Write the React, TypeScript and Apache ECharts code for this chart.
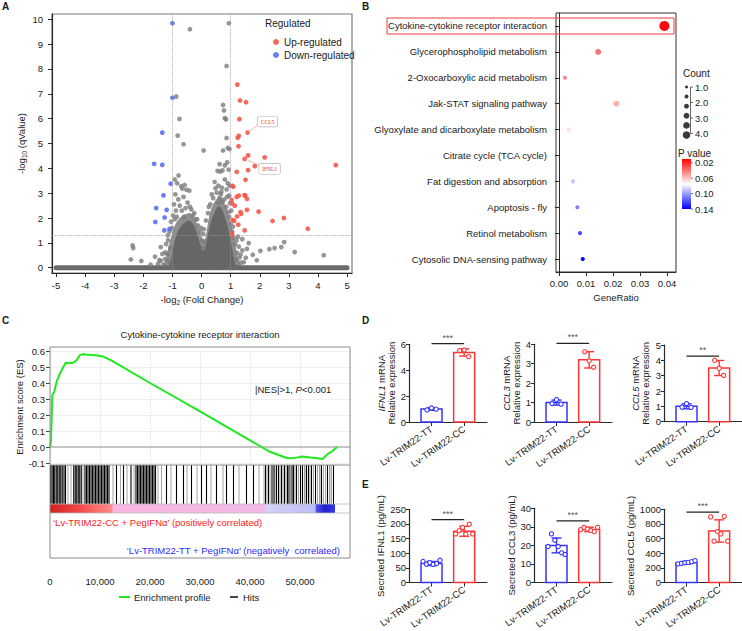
import React, { useEffect, useRef } from 'react';
import * as echarts from 'echarts';

const FONT = '"Liberation Sans", Arial, Helvetica, sans-serif';
const TXT = '#1a1a1a';
const AXIS = '#2a2a2a';
const BLUE = '#3434ff';
const RED = '#ff3434';

// ---------------- Panel A: volcano ----------------
const volcanoXTicks = [-5, -4, -3, -2, -1, 0, 1, 2, 3, 4, 5];
const volcanoYTicks = [0, 1, 2, 3, 4, 5, 6, 7, 8, 9, 10];
const foldChangeCutoffs = [-1, 1];
const qValueCutoff = 1.3;
const baselineRow = [[-5, 0], [5, 0]];
const upRegulated = [
  [1.23, 7.37], [1.32, 6.73], [1.53, 6.66], [1.30, 5.98], [1.58, 5.44], [1.28, 5.31], [1.24, 5.23],
  [1.27, 4.89], [1.60, 4.52], [2.17, 4.44], [1.48, 4.38], [1.83, 4.09], [4.61, 4.13], [1.60, 3.93],
  [1.21, 3.86], [1.51, 3.54], [1.05, 3.30], [1.09, 3.26], [1.48, 2.92], [1.50, 2.90], [1.28, 2.90],
  [1.21, 2.85], [1.03, 2.73], [1.56, 2.77], [1.04, 2.59], [1.14, 2.50], [1.56, 2.33], [1.34, 2.24],
  [1.36, 2.17], [1.96, 2.26], [1.22, 2.06], [2.44, 1.88], [2.83, 2.00], [1.07, 1.92], [1.12, 1.88],
  [1.26, 1.73], [1.48, 1.50], [3.65, 1.57], [1.03, 1.37], [1.05, 1.33],
];
const downRegulated = [
  [-1.00, 9.84], [-1.00, 6.84], [-1.35, 5.44], [-1.63, 4.18], [-1.35, 4.14], [-1.06, 3.38],
  [-1.31, 2.91], [-1.56, 2.40], [-1.20, 2.33], [-1.27, 2.02], [-1.59, 1.84], [-1.10, 1.56], [-1.28, 1.50],
];
const notSignificant = [
  [-0.40, 9.60], [0.94, 9.84], [0.86, 8.12], [-0.87, 6.89], [0.74, 6.55], [0.77, 6.33], [0.80, 6.02],
  [0.84, 5.97], [-0.76, 5.99], [-0.82, 5.32], [0.86, 5.22], [-0.62, 4.97], [0.90, 4.82], [0.96, 4.78],
  [0.74, 4.72], [0.07, 4.72], [0.88, 4.24], [0.62, 4.17], [0.80, 4.12], [0.55, 3.90], [0.64, 3.87],
  [0.72, 3.92], [0.93, 3.95],
  [-0.79, 3.71], [-0.92, 3.55], [-0.84, 3.40], [-0.70, 3.28], [-0.58, 3.33], [-0.52, 3.14], [-0.42, 3.10],
  [-0.66, 3.18], [-0.90, 2.95], [-0.80, 2.75], [-0.62, 2.85], [-0.48, 2.62], [-0.95, 2.55], [-0.75, 2.50],
  [-0.88, 2.30], [-0.55, 2.40], [-0.35, 2.35], [-0.25, 2.20], [-0.98, 2.10], [-1.05, 1.85], [-0.92, 1.95],
  [-0.20, 1.95], [-0.12, 1.70], [-0.05, 1.45], [0.02, 1.10], [-1.10, 1.45], [-1.02, 1.60], [-1.15, 1.10],
  [-1.08, 0.80], [-1.18, 0.55], [-1.25, 0.35], [-1.12, 0.25], [0.05, 0.80], [0.12, 1.05],
  [-1.32, 0.12], [-1.22, 0.95], [-1.35, 0.55], [-1.45, 0.30], [-1.16, 1.30], [-0.68, 2.30], [-0.40, 2.45],
  [-0.30, 2.10], [-0.15, 1.95], [-0.02, 1.60], [0.06, 1.35], [-0.85, 2.05], [-0.60, 2.05],
  [0.45, 3.45], [0.58, 3.30], [0.70, 3.22], [0.80, 3.55], [0.90, 3.40], [0.96, 3.30], [0.86, 3.15],
  [0.68, 3.05], [0.52, 3.02], [0.95, 2.90], [0.62, 2.80], [0.78, 2.75], [0.40, 2.80], [0.30, 2.55],
  [0.98, 2.60], [0.85, 2.45], [1.02, 2.30], [0.22, 2.20], [0.15, 1.90], [0.95, 2.05], [1.00, 1.75],
  [0.08, 1.55], [1.05, 1.45], [1.10, 1.20], [1.20, 1.10], [1.15, 0.95], [1.28, 0.85], [1.22, 0.60],
  [1.30, 0.40], [1.18, 0.30], [0.66, 2.95], [0.72, 2.65], [0.58, 2.62], [0.35, 2.95], [0.25, 2.45],
  [0.88, 2.85], [0.92, 2.25], [1.08, 1.65], [1.35, 0.20], [1.25, 1.25], [1.40, 1.15], [0.48, 3.20],
  [-2.37, 0.90], [-2.35, 0.79], [-2.43, 0.33], [-2.07, 0.27], [-1.60, 0.44], [-1.40, 0.83], [-1.40, 0.28],
  [-1.25, 0.62], [-1.75, 0.12], [-1.50, 0.15],
  [1.62, 0.99], [1.56, 0.76], [2.02, 0.68], [2.33, 0.75], [2.51, 0.79], [2.74, 0.83], [2.84, 1.03],
  [3.20, 0.63], [4.20, 0.50], [1.76, 0.52], [1.34, 0.52], [1.45, 0.22], [1.90, 0.30], [1.40, 0.70], [1.52, 0.40],
];
const cloudHaloOutline = [
  [-1.30, 0], [-1.22, 0.40], [-1.12, 0.90], [-1.02, 1.35], [-0.90, 1.75], [-0.75, 2.0], [-0.55, 2.15],
  [-0.40, 2.2], [-0.25, 2.0], [-0.12, 1.65], [0.0, 1.25], [0.08, 1.05], [0.15, 1.30], [0.22, 1.80],
  [0.30, 2.25], [0.42, 2.6], [0.55, 2.8], [0.68, 2.8], [0.80, 2.55], [0.92, 2.15], [1.02, 1.70],
  [1.10, 1.25], [1.18, 0.80], [1.25, 0.40], [1.32, 0],
];
const cloudCoreOutline = [
  [-1.08, 0], [-1.05, 0.30], [-1.0, 0.60], [-0.95, 0.95], [-0.88, 1.25], [-0.80, 1.50], [-0.70, 1.68],
  [-0.58, 1.82], [-0.46, 1.90], [-0.36, 1.85], [-0.26, 1.70], [-0.18, 1.45], [-0.10, 1.15], [-0.02, 0.85],
  [0.06, 0.68], [0.12, 0.75], [0.18, 1.10], [0.25, 1.50], [0.32, 1.85], [0.40, 2.10], [0.48, 2.30],
  [0.56, 2.45], [0.64, 2.45], [0.72, 2.30], [0.80, 2.05], [0.88, 1.75], [0.95, 1.40], [1.02, 1.0],
  [1.08, 0.60], [1.13, 0.25], [1.16, 0],
];
const labelledGenes = [
  { name: 'CCL5', value: [1.58, 5.44] },
  { name: 'IFNL1', value: [1.48, 4.38] },
];

// ---------------- Panel B: KEGG dot plot ----------------
const pathways = [
  'Cytokine-cytokine receptor interaction',
  'Glycerophospholipid metabolism',
  '2-Oxocarboxylic acid metabolism',
  'Jak-STAT signaling pathway',
  'Glyoxylate and dicarboxylate metabolism',
  'Citrate cycle (TCA cycle)',
  'Fat digestion and absorption',
  'Apoptosis - fly',
  'Retinol metabolism',
  'Cytosolic DNA-sensing pathway',
];
const geneRatio = [0.039, 0.0145, 0.0022, 0.0212, 0.0036, 0.0036, 0.0052, 0.0068, 0.0078, 0.0088];
const geneCount = [4, 2, 1, 2, 1, 1, 1, 1, 1, 1];
const pValue = [0.012, 0.04, 0.045, 0.055, 0.066, 0.075, 0.09, 0.108, 0.12, 0.14];
const ratioTicks = [0, 0.01, 0.02, 0.03, 0.04];
const countLegendLabels = [1.0, 2.0, 3.0, 4.0];
const countLegendDots = [1.0, 1.6, 2.2, 2.8, 3.4, 4.0];
const pLegendLabels = [0.02, 0.06, 0.10, 0.14];
const pRange = [0.01, 0.14];

// ---------------- Panel C: GSEA ----------------
const esRank = [0, 200, 460, 860, 1340, 2000, 2660, 3140, 4000, 4660, 5340, 6000, 6660, 7660, 9000, 10660,
  12340, 20000, 30000, 40000, 42300, 44000, 45700, 47500, 49000, 50500, 52000, 53500, 54500, 55500, 56500, 57400];
const esScore = [0, 0.04, 0.325, 0.345, 0.41, 0.46, 0.50, 0.527, 0.523, 0.527, 0.544, 0.575, 0.58, 0.577, 0.573, 0.565,
  0.54, 0.40, 0.222, 0.042, 0.0, -0.03, -0.05, -0.07, -0.068, -0.06, -0.065, -0.07, -0.075, -0.045, -0.025, 0.0];
const hitsStrong = [
  150, 420, 700, 950, 1250, 1550, 1850, 2150, 2450, 2800, 3100,
  4750, 5050, 5350, 5650, 5950, 6250,
  7000, 7300, 7600, 7900, 8200, 8500, 8800, 9100, 9400, 9700, 10000, 10300, 10600, 10900, 11200, 11500, 11800,
  13300, 14700, 16200,
  17200, 17500, 17800, 18100, 18400, 18700, 19000, 19300, 19600, 19900, 20200, 20500, 20800, 21100,
  23300, 25300, 26700, 28300, 30300, 31300, 33300, 35300, 36700, 39300, 40700,
  43100, 43700, 44400, 44800, 45300, 45700, 46300, 46900, 47500, 47800, 48400, 48700, 49300, 50100,
  50500, 51300, 51700, 52300, 53100, 54300, 55500, 56700];
const hitsWeak = [3600, 4200, 6600, 12600, 14100, 15400, 22300, 24200, 27400, 29400, 32200, 34600, 37800,
  41800, 42800, 43400, 44000, 46000, 46600, 47200, 48100, 49000, 49700, 50900, 52700, 53500, 53900, 54700,
  55100, 55900, 56300, 16800, 21600, 45000, 51000, 52000, 54000, 56000];
const rankedListLength = 57000;
const rankTicks = [0, 10000, 20000, 30000, 40000, 50000];

// ---------------- Panels D/E: bar charts ----------------
const groups = ['Lv-TRIM22-TT', 'Lv-TRIM22-CC'];
const ifnl1MrnaMean = [1.0, 5.37]; const ifnl1MrnaSd = [0.09, 0.28];
const ifnl1MrnaTT = [0.93, 1.08, 0.99]; const ifnl1MrnaCC = [5.51, 5.56, 5.05];
const ccl3MrnaMean = [1.0, 3.2]; const ccl3MrnaSd = [0.13, 0.42];
const ccl3MrnaTT = [0.95, 1.15, 0.92]; const ccl3MrnaCC = [3.62, 3.15, 2.82];
const ccl5MrnaMean = [1.0, 3.5]; const ccl5MrnaSd = [0.16, 0.49];
const ccl5MrnaTT = [0.95, 1.18, 0.93]; const ccl5MrnaCC = [4.0, 3.48, 3.02];
const ifnl1ProtMean = [65, 175]; const ifnl1ProtSd = [7, 17];
const ifnl1ProtTT = [72, 63, 68, 62, 65, 76]; const ifnl1ProtCC = [166, 177, 188, 165, 199, 166];
const ccl3ProtMean = [20, 28.6]; const ccl3ProtSd = [4, 1.2];
const ccl3ProtTT = [19.4, 26.2, 22.8, 19.4, 16.0, 15.1]; const ccl3ProtCC = [28.5, 29.7, 28.8, 28.0, 27.4, 29.7];
const ccl5ProtMean = [272, 704]; const ccl5ProtSd = [16, 152];
const ccl5ProtTT = [255, 262, 270, 275, 285, 300]; const ccl5ProtCC = [896, 565, 696, 665, 904, 565];
const significance = ['***', '***', '**', '***', '***', '***'];
const bracketHeights = [6.05, 4.05, 4.28, 215, 33.2, 961];

function sizeOf(c: number) { return 2.2 + c * 1.95; }

function buildOption() {
  const grid: any[] = [];
  const xAxis: any[] = [];
  const yAxis: any[] = [];
  const series: any[] = [];
  const graphic: any[] = [];
  const txt = (x: number, y: number, text: string, extra: any = {}) => ({
    type: 'text', x, y, silent: true,
    style: { text, fill: TXT, font: `9.5px ${FONT}`, textVerticalAlign: 'middle', ...extra },
  });

  // ---------- A ----------
  grid.push({ left: 52, top: 14, width: 300, height: 259, show: true, borderColor: '#7a7a7a', borderWidth: 1.2 });
  xAxis.push({
    gridIndex: 0, type: 'value', min: -5.14, max: 5.17,
    axisLine: { show: true, onZero: false, lineStyle: { color: AXIS, width: 1.2 } },
    axisTick: { show: true, customValues: volcanoXTicks, length: 4, lineStyle: { color: AXIS } },
    axisLabel: { customValues: volcanoXTicks, fontSize: 9.5, color: TXT, margin: 7 },
    splitLine: { show: false },
    name: '-log{s|2} (Fold Change)', nameLocation: 'middle', nameGap: 19,
    nameTextStyle: { fontSize: 9.5, color: TXT, rich: { s: { fontSize: 6.5, padding: [7, 0, 0, 0] } } },
  });
  yAxis.push({
    gridIndex: 0, type: 'value', min: -0.213, max: 10.213,
    axisLine: { show: true, onZero: false, lineStyle: { color: AXIS, width: 1.2 } },
    axisTick: { show: true, customValues: volcanoYTicks, length: 4, lineStyle: { color: AXIS } },
    axisLabel: { customValues: volcanoYTicks, fontSize: 9.5, color: TXT, margin: 9 },
    splitLine: { show: false },
    name: '-log{s|10} (qValue)', nameLocation: 'middle', nameGap: 24,
    nameTextStyle: { fontSize: 9.5, color: TXT, rich: { s: { fontSize: 6.5, padding: [7, 0, 0, 0] } } },
  });
  series.push({
    type: 'line', xAxisIndex: 0, yAxisIndex: 0, data: baselineRow, symbol: 'none', silent: true,
    lineStyle: { color: '#6a6a6a', width: 5, cap: 'round' }, z: 2,
  });
  const cloud = (outline: number[][], fill: string) => ({
    type: 'custom', xAxisIndex: 0, yAxisIndex: 0, data: [[0, 0]], silent: true, z: 2,
    renderItem: (_p: any, api: any) => ({
      type: 'polygon',
      shape: { points: outline.map((pt) => api.coord(pt)), smooth: 0.35 },
      style: { fill },
    }),
  });
  series.push(cloud(cloudHaloOutline, '#8e8e8e'));
  series.push({
    type: 'scatter', name: 'Not significant', xAxisIndex: 0, yAxisIndex: 0, data: notSignificant,
    symbolSize: 4.8, itemStyle: { color: '#7c7c7c', opacity: 0.8 }, silent: true, z: 3,
    markLine: {
      silent: true, symbol: 'none', label: { show: false },
      lineStyle: { color: '#9a9a9a', type: 'dotted', width: 0.8 },
      data: [...foldChangeCutoffs.map((v) => ({ xAxis: v })), { yAxis: qValueCutoff }],
    },
  });
  series.push({ ...cloud(cloudCoreOutline, '#666666'), z: 3 });
  series.push({
    type: 'scatter', name: 'Up-regulated', xAxisIndex: 0, yAxisIndex: 0, data: upRegulated,
    symbolSize: 4.8, itemStyle: { color: '#f5584a', opacity: 0.9 }, z: 4,
  });
  series.push({
    type: 'scatter', name: 'Down-regulated', xAxisIndex: 0, yAxisIndex: 0, data: downRegulated,
    symbolSize: 4.8, itemStyle: { color: '#5a6ff5', opacity: 0.9 }, z: 4,
  });
  const labelOffsets = [[20, -11], [25, 10]];
  series.push({
    type: 'custom', xAxisIndex: 0, yAxisIndex: 0, silent: true, z: 6,
    data: labelledGenes.map((g) => g.value),
    renderItem: (params: any, api: any) => {
      const p = api.coord([api.value(0), api.value(1)]);
      const off = labelOffsets[params.dataIndex];
      const cx = p[0] + off[0], cy = p[1] + off[1];
      const ex = cx - 9, ey = cy + (off[1] < 0 ? 3 : -3);
      return {
        type: 'group', children: [
          { type: 'line', shape: { x1: p[0], y1: p[1], x2: ex, y2: ey }, style: { stroke: '#f09a9a', lineWidth: 0.7 } },
          {
            type: 'text', x: cx, y: cy,
            style: {
              text: labelledGenes[params.dataIndex].name, fill: '#e83030',
              font: '5.5px "Liberation Serif", "DejaVu Serif", serif', align: 'center', verticalAlign: 'middle',
              backgroundColor: '#fff', borderColor: '#b0b0b0', borderWidth: 0.6, borderRadius: 1.5, padding: [2, 3],
            },
          },
        ],
      };
    },
  });
  graphic.push(txt(265, 23, 'Regulated', { font: `10px ${FONT}` }));

  // ---------- B ----------
  grid.push({ left: 556, top: 13, width: 120, height: 259, show: true, borderColor: '#333', borderWidth: 1 });
  xAxis.push({
    gridIndex: 1, type: 'value', min: -0.0011, max: 0.0433,
    axisLine: { show: true, onZero: false, lineStyle: { color: AXIS } },
    axisTick: { show: true, customValues: ratioTicks, length: 4, lineStyle: { color: AXIS } },
    axisLabel: { customValues: ratioTicks, fontSize: 9.5, color: TXT, margin: 6, formatter: (v: number) => v.toFixed(2) },
    splitLine: { show: false },
    name: 'GeneRatio', nameLocation: 'middle', nameGap: 20, nameTextStyle: { fontSize: 9.5, color: TXT },
  });
  yAxis.push({
    gridIndex: 1, type: 'category', data: pathways, inverse: true,
    axisLine: { show: true, lineStyle: { color: AXIS } },
    axisTick: { show: true, alignWithLabel: true, length: 4, lineStyle: { color: AXIS } },
    axisLabel: { fontSize: 9.5, color: TXT, margin: 9, interval: 0 },
    splitLine: { show: false },
  });
  const dotSeriesIndex = series.length;
  series.push({
    type: 'scatter', xAxisIndex: 1, yAxisIndex: 1,
    data: pathways.map((p, i) => [geneRatio[i], p, pValue[i], geneCount[i]]),
    symbolSize: (v: any) => sizeOf(v[3]), itemStyle: { opacity: 1 }, z: 4,
  });
  graphic.push({ type: 'rect', shape: { x: 387, y: 18, width: 287, height: 16 }, silent: true, z: 10,
    style: { fill: 'none', stroke: '#f03a3a', lineWidth: 1 } });
  graphic.push(txt(683, 73, 'Count', { font: `10px ${FONT}` }));
  countLegendDots.forEach((c, i) => {
    const y = 87 + i * 9.6;
    graphic.push({ type: 'circle', shape: { cx: 686.5, cy: y, r: sizeOf(c) * 0.38 }, style: { fill: '#3a3a3a' }, silent: true });
  });
  graphic.push({ type: 'line', shape: { x1: 690.5, y1: 87, x2: 690.5, y2: 133.5 }, style: { stroke: '#444', lineWidth: 0.8 }, silent: true });
  countLegendLabels.forEach((c, i) => {
    const y = 87 + i * 15.5;
    graphic.push({ type: 'line', shape: { x1: 690.5, y1: y, x2: 693, y2: y }, style: { stroke: '#444', lineWidth: 0.8 }, silent: true });
    graphic.push(txt(695, y, c.toFixed(1)));
  });
  graphic.push(txt(678, 153, 'P value', { font: `10px ${FONT}` }));
  const cbTop = 159, cbH = 50;
  const mid = (0.075 - pRange[0]) / (pRange[1] - pRange[0]);
  graphic.push({
    type: 'rect', shape: { x: 682, y: cbTop, width: 9, height: cbH }, silent: true,
    style: {
      fill: new echarts.graphic.LinearGradient(0, 0, 0, 1, [
        { offset: 0, color: '#ff0000' }, { offset: mid, color: '#ffffff' }, { offset: 1, color: '#0000ff' },
      ]),
    },
  });
  pLegendLabels.forEach((p) => {
    const y = cbTop + ((p - pRange[0]) / (pRange[1] - pRange[0])) * cbH;
    graphic.push({ type: 'line', shape: { x1: 691, y1: y, x2: 693, y2: y }, style: { stroke: '#444', lineWidth: 0.8 }, silent: true });
    graphic.push(txt(695, y, p.toFixed(2)));
  });

  // ---------- C ----------
  grid.push({ left: 50, top: 351, width: 300, height: 112 });
  xAxis.push({
    gridIndex: 2, type: 'value', min: 0, max: 60000, interval: 10000,
    axisLine: { show: false }, axisTick: { show: false }, axisLabel: { show: false },
    splitLine: { show: true, lineStyle: { color: '#d8d8d8', type: 'dotted', width: 0.8 } },
  });
  yAxis.push({
    gridIndex: 2, type: 'value', min: -0.1, max: 0.6, interval: 0.1,
    axisLine: { show: false },
    axisTick: { show: true, length: 4, lineStyle: { color: '#444' } },
    axisLabel: { fontSize: 9.5, color: TXT, margin: 5, formatter: (v: number) => v.toFixed(1) },
    splitLine: { show: true, lineStyle: { color: '#d8d8d8', type: 'dotted', width: 0.8 } },
    name: 'Enrichment score (ES)', nameLocation: 'middle', nameGap: 23, nameTextStyle: { fontSize: 9.5, color: TXT },
  });
  series.push({
    type: 'line', xAxisIndex: 2, yAxisIndex: 2, data: esRank.map((r, i) => [r, esScore[i]]),
    symbol: 'none', lineStyle: { color: '#1ee81e', width: 2 }, z: 5,
    markLine: {
      silent: true, symbol: 'none', label: { show: false }, z: 3,
      lineStyle: { color: '#c4c4c4', width: 2, type: 'solid' }, data: [{ yAxis: 0 }],
    },
  });
  grid.push({ left: 50, top: 465, width: 300, height: 39 });
  xAxis.push({ gridIndex: 3, type: 'value', min: 0, max: 60000, show: false });
  yAxis.push({ gridIndex: 3, type: 'value', min: 0, max: 1, show: false });
  const hitRender = (color: string, w: number) => (_p: any, api: any) => {
    const a = api.coord([api.value(0), 1]);
    const b = api.coord([api.value(0), 0]);
    return { type: 'line', shape: { x1: a[0], y1: a[1], x2: b[0], y2: b[1] }, style: { stroke: color, lineWidth: w } };
  };
  series.push({ type: 'custom', xAxisIndex: 3, yAxisIndex: 3, data: hitsWeak.map((r) => [r]), renderItem: hitRender('#9a9a9a', 0.9), silent: true });
  series.push({ type: 'custom', xAxisIndex: 3, yAxisIndex: 3, data: hitsStrong.map((r) => [r]), renderItem: hitRender('#000', 1.1), silent: true });
  grid.push({ left: 50, top: 504, width: 300, height: 9 });
  xAxis.push({ gridIndex: 4, type: 'value', min: 0, max: 60000, show: false });
  yAxis.push({ gridIndex: 4, type: 'value', min: 0, max: 1, show: false });
  const L = rankedListLength;
  series.push({
    type: 'custom', xAxisIndex: 4, yAxisIndex: 4, data: [[0, L]], silent: true,
    renderItem: (_p: any, api: any) => {
      const a = api.coord([api.value(0), 1]);
      const b = api.coord([api.value(1), 0]);
      return {
        type: 'rect', shape: { x: a[0], y: a[1], width: b[0] - a[0], height: b[1] - a[1] },
        style: {
          fill: new echarts.graphic.LinearGradient(0, 0, 1, 0, [
            { offset: 0, color: '#cf1f1f' }, { offset: 6000 / L, color: '#f24a4a' },
            { offset: 12400 / L, color: '#ff8c8c' }, { offset: 12600 / L, color: '#f8b6e0' },
            { offset: 43000 / L, color: '#f1b9e6' }, { offset: 43200 / L, color: '#d4d2f8' },
            { offset: 53000 / L, color: '#bcbcf6' }, { offset: 53300 / L, color: '#5050e6' },
            { offset: 55000 / L, color: '#1f1fd0' }, { offset: 1, color: '#3a3ae2' },
          ]),
        },
      };
    },
  });
  grid.push({ left: 50, top: 347, width: 300, height: 211 });
  xAxis.push({
    gridIndex: 5, type: 'value', min: 0, max: 60000,
    axisLine: { show: false }, axisTick: { show: false }, splitLine: { show: false },
    axisLabel: {
      customValues: rankTicks, fontSize: 9.5, color: TXT, margin: 18, hideOverlap: false,
      formatter: (v: number) => (v === 0 ? '0' : v.toLocaleString('en-US')),
    },
  });
  yAxis.push({ gridIndex: 5, type: 'value', min: 0, max: 1, show: false });

  graphic.push({ type: 'rect', shape: { x: 50, y: 347, width: 300, height: 211 }, silent: true, z: 20,
    style: { fill: 'none', stroke: '#8c8c8c', lineWidth: 1 } });
  graphic.push({ type: 'line', shape: { x1: 50, y1: 465, x2: 350, y2: 465 }, silent: true, z: 20, style: { stroke: '#8c8c8c', lineWidth: 1 } });
  graphic.push({ type: 'line', shape: { x1: 50, y1: 504, x2: 350, y2: 504 }, silent: true, z: 20, style: { stroke: '#b8b8b8', lineWidth: 0.8 } });
  graphic.push({ type: 'line', shape: { x1: 50, y1: 513, x2: 350, y2: 513 }, silent: true, z: 20, style: { stroke: '#b8b8b8', lineWidth: 0.8 } });
  graphic.push(txt(200, 334, 'Cytokine-cytokine receptor interaction', { textAlign: 'center' }));
  graphic.push({
    type: 'text', x: 255, y: 389, silent: true,
    style: { text: '|NES|>1, {i|P}<0.001', fill: TXT, font: `9.5px ${FONT}`, textVerticalAlign: 'middle',
      rich: { i: { fontStyle: 'italic', fontSize: 9.5, fontFamily: FONT } } },
  });
  graphic.push(txt(53, 522, '\u2018Lv-TRIM22-CC + PegIFN\u03b1\u2019 (positively correlated)', { fill: '#ff2020' }));
  graphic.push(txt(340, 550, '\u2018Lv-TRIM22-TT + PegIFN\u03b1\u2019 (negatively  correlated)', { fill: '#2b2bff', textAlign: 'right' }));
  graphic.push({ type: 'line', shape: { x1: 119, y1: 597, x2: 130, y2: 597 }, silent: true, style: { stroke: '#1ee81e', lineWidth: 2 } });
  graphic.push(txt(134, 597, 'Enrichment profile'));
  graphic.push({ type: 'line', shape: { x1: 230, y1: 597, x2: 238, y2: 597 }, silent: true, style: { stroke: '#444', lineWidth: 2 } });
  graphic.push(txt(243, 597, 'Hits'));

  // ---------- D / E ----------
  const specs = [
    { left: 409, top: 344.3, height: 77.7, yMax: 6, yInt: 2, mean: ifnl1MrnaMean, sd: ifnl1MrnaSd, tt: ifnl1MrnaTT, cc: ifnl1MrnaCC, name: '{i|IFNL1} mRNA\nRelative expression', gap: 12 },
    { left: 534, top: 344.3, height: 77.7, yMax: 4, yInt: 1, mean: ccl3MrnaMean, sd: ccl3MrnaSd, tt: ccl3MrnaTT, cc: ccl3MrnaCC, name: '{i|CCL3} mRNA\nRelative expression', gap: 12 },
    { left: 664, top: 345, height: 76.7, yMax: 5, yInt: 1, mean: ccl5MrnaMean, sd: ccl5MrnaSd, tt: ccl5MrnaTT, cc: ccl5MrnaCC, name: '{i|CCL5} mRNA\nRelative expression', gap: 13 },
    { left: 409, top: 509.3, height: 76.7, yMax: 250, yInt: 50, mean: ifnl1ProtMean, sd: ifnl1ProtSd, tt: ifnl1ProtTT, cc: ifnl1ProtCC, name: 'Secreted IFNL1 (pg/mL)', gap: 22 },
    { left: 534, top: 508.3, height: 77.7, yMax: 40, yInt: 10, mean: ccl3ProtMean, sd: ccl3ProtSd, tt: ccl3ProtTT, cc: ccl3ProtCC, name: 'Secreted CCL3 (pg/mL)', gap: 17 },
    { left: 664, top: 509.3, height: 76.7, yMax: 1000, yInt: 200, mean: ccl5ProtMean, sd: ccl5ProtSd, tt: ccl5ProtTT, cc: ccl5ProtCC, name: 'Secreted CCL5 (pg/mL)', gap: 28 },
  ];
  specs.forEach((s, k) => {
    const gi = grid.length;
    grid.push({ left: s.left, top: s.top, width: 78, height: s.height });
    xAxis.push({
      gridIndex: gi, type: 'value', min: -0.69, max: 1.7,
      axisLine: { show: true, onZero: false, lineStyle: { color: AXIS, width: 1.2 } },
      axisTick: { show: true, customValues: [0, 1], length: 4, lineStyle: { color: AXIS } },
      axisLabel: { customValues: [0, 1], rotate: 35, fontSize: 9.5, color: TXT, margin: 6,
        formatter: (v: number) => groups[Math.round(v)] },
      splitLine: { show: false },
    });
    yAxis.push({
      gridIndex: gi, type: 'value', min: 0, max: s.yMax, interval: s.yInt,
      axisLine: { show: true, onZero: false, lineStyle: { color: AXIS, width: 1.2 } },
      axisTick: { show: true, length: 3, lineStyle: { color: AXIS } },
      axisLabel: { fontSize: 9.5, color: TXT, margin: 3, formatter: (v: number) => String(v) },
      splitLine: { show: false },
      name: s.name, nameLocation: 'middle', nameGap: s.gap,
      nameTextStyle: { fontSize: 9.5, color: TXT, lineHeight: 10.5, rich: { i: { fontStyle: 'italic', fontSize: 9.5, fontFamily: FONT } } },
    });
    series.push({
      type: 'custom', xAxisIndex: gi, yAxisIndex: gi, silent: true, clip: false, z: 3,
      data: groups.map((_g, i) => [i, s.mean[i], s.sd[i]]),
      renderItem: (_p: any, api: any) => {
        const i = api.value(0), m = api.value(1), sd = api.value(2);
        const base = api.coord([i, 0]), top = api.coord([i, m]);
        const hi = api.coord([i, m + sd]), lo = api.coord([i, m - sd]);
        const c = i === 0 ? BLUE : RED;
        const bw = 21, cap = 10;
        const ln = (x1: number, y1: number, x2: number, y2: number) => ({ type: 'line', shape: { x1, y1, x2, y2 }, style: { stroke: c, lineWidth: 1.4 } });
        return {
          type: 'group', children: [
            { type: 'rect', shape: { x: base[0] - bw / 2, y: top[1], width: bw, height: base[1] - top[1] }, style: { fill: 'rgba(255,255,255,0)', stroke: c, lineWidth: 1.5 } },
            ln(hi[0], hi[1], lo[0], lo[1]),
            ln(hi[0] - cap / 2, hi[1], hi[0] + cap / 2, hi[1]),
            ln(lo[0] - cap / 2, lo[1], lo[0] + cap / 2, lo[1]),
          ],
        };
      },
    });
    series.push({
      type: 'custom', xAxisIndex: gi, yAxisIndex: gi, silent: true, clip: false, z: 4,
      data: [...s.tt.map((v, j) => [0, v, j, s.tt.length]), ...s.cc.map((v, j) => [1, v, j, s.cc.length])],
      renderItem: (_p: any, api: any) => {
        const g = api.value(0), v = api.value(1), j = api.value(2), n = api.value(3);
        const p = api.coord([g, v]);
        const step = n > 4 ? 3.4 : 4.5;
        return { type: 'circle', shape: { cx: p[0] + (j - (n - 1) / 2) * step, cy: p[1], r: 2.1 },
          style: { fill: '#fff', stroke: g === 0 ? BLUE : RED, lineWidth: 1.1 } };
      },
    });
    series.push({
      type: 'line', xAxisIndex: gi, yAxisIndex: gi, clip: false, symbol: 'none', silent: true,
      data: [[0, bracketHeights[k]], [1, bracketHeights[k]]], lineStyle: { color: '#222', width: 1.3 },
    });
    series.push({
      type: 'scatter', xAxisIndex: gi, yAxisIndex: gi, clip: false, silent: true, symbolSize: 1,
      itemStyle: { color: 'rgba(0,0,0,0)' }, data: [[0.5, bracketHeights[k]]],
      label: { show: true, position: 'top', distance: 1, formatter: significance[k], fontSize: 9, color: TXT },
    });
  });

  // panel letters
  [['A', 2, 6], ['B', 362, 6], ['C', 2, 320], ['D', 362, 320], ['E', 362, 484]].forEach(([t, x, y]) => {
    graphic.push(txt(x as number, y as number, t as string, { font: `bold 10px ${FONT}` }));
  });

  return {
    animation: false,
    backgroundColor: '#fff',
    textStyle: { fontFamily: FONT },
    grid, xAxis, yAxis, series, graphic,
    legend: {
      data: ['Up-regulated', 'Down-regulated'], left: 268, top: 32, orient: 'vertical',
      icon: 'circle', itemWidth: 6, itemHeight: 6, itemGap: 3, selectedMode: false,
      textStyle: { fontSize: 10, color: TXT, fontFamily: FONT },
    },
    visualMap: {
      show: false, type: 'continuous', min: pRange[0], max: pRange[1], dimension: 2, seriesIndex: dotSeriesIndex,
      inRange: { color: ['#ff0000', '#ffffff', '#0000ff'] },
    },
  };
}

export default function App() {
  const ref = useRef<HTMLDivElement>(null);
  useEffect(() => {
    document.body.style.margin = '0';
    const chart = echarts.init(ref.current!, null, { renderer: 'svg' });
    chart.setOption(buildOption() as any);
    return () => chart.dispose();
  }, []);
  return <div ref={ref} style={{ width: 742, height: 631 }} />;
}
